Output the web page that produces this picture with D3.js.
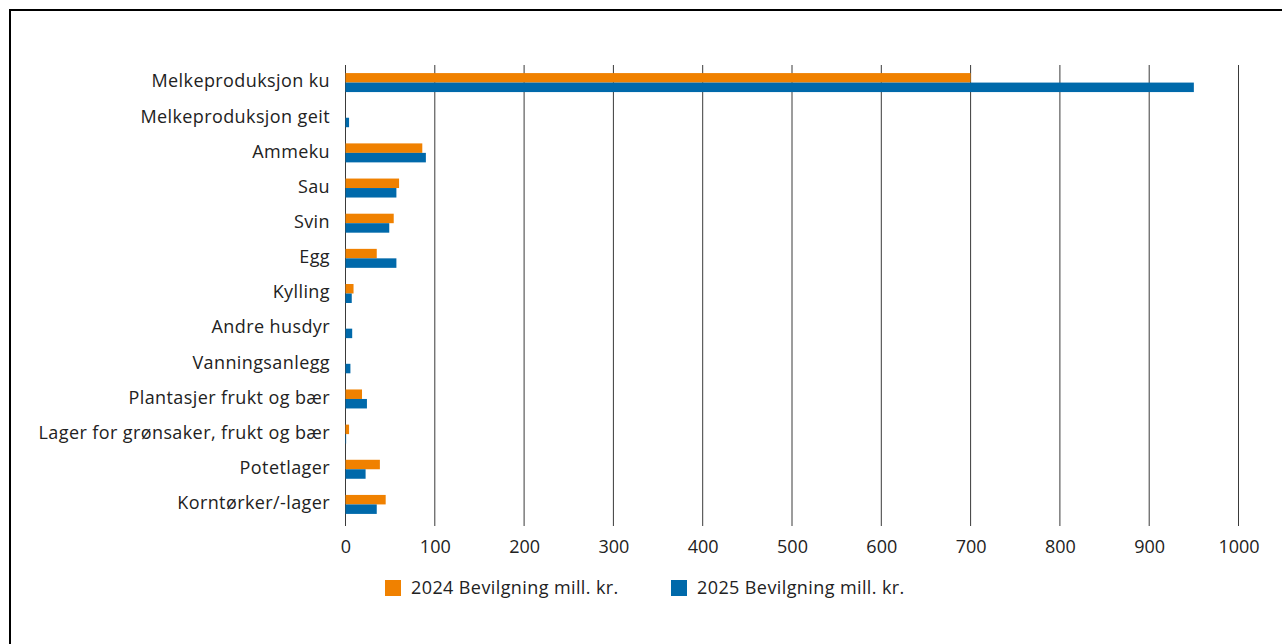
<!DOCTYPE html>
<html>
<head>
<meta charset="utf-8">
<script src="https://cdn.jsdelivr.net/npm/d3@7"></script>
<style>
  html, body { margin: 0; padding: 0; background: #fff; }
  svg { display: block; font-family: "Open Sans", "Noto Sans", sans-serif; }
</style>
</head>
<body>
<svg id="chart" width="1282" height="644"></svg>
<script>
const categories = [
  "Melkeproduksjon ku",
  "Melkeproduksjon geit",
  "Ammeku",
  "Sau",
  "Svin",
  "Egg",
  "Kylling",
  "Andre husdyr",
  "Vanningsanlegg",
  "Plantasjer frukt og bær",
  "Lager for grønsaker, frukt og bær",
  "Potetlager",
  "Korntørker/-lager"
];
const values2024 = [700, 0, 86, 60, 54, 35, 9, 0, 0, 18.5, 4, 38.5, 45];
const values2025 = [950, 4, 90, 57, 49, 57, 7, 7.5, 5.5, 24, 0.7, 22.5, 35];
const seriesNames = ["2024 Bevilgning mill. kr.", "2025 Bevilgning mill. kr."];
const seriesColors = ["#F08100", "#0069AA"];
const xTicks = [0, 100, 200, 300, 400, 500, 600, 700, 800, 900, 1000];

const svg = d3.select("#chart");
const FS = 18, LS = 0.4;

// frame
svg.append("rect")
  .attr("x", 10).attr("y", 10).attr("width", 1290).attr("height", 660)
  .attr("fill", "none").attr("stroke", "#000").attr("stroke-width", 2);

const x = d3.scaleLinear().domain([0, 1000]).range([345.5, 1238.5]);
const y = d3.scaleBand().domain(categories).range([65, 522])
  .paddingInner(0.46).paddingOuter(0.23);
const sub = d3.scaleBand().domain([0, 1]).range([0, y.bandwidth()]);

// gridlines
svg.append("g").selectAll("line").data(xTicks).join("line")
  .attr("x1", d => x(d)).attr("x2", d => x(d))
  .attr("y1", 65).attr("y2", 526)
  .attr("stroke", "#3a3a3a").attr("stroke-width", 1);

// bars
const series = [values2024, values2025];
series.forEach((vals, si) => {
  svg.append("g").selectAll("rect").data(categories).join("rect")
    .attr("x", x(0))
    .attr("y", (c) => y(c) + sub(si))
    .attr("width", (c, i) => Math.max(0, x(vals[i]) - x(0)))
    .attr("height", sub.bandwidth())
    .attr("fill", seriesColors[si]);
});

// category labels
svg.append("g").selectAll("text").data(categories).join("text")
  .attr("x", 330)
  .attr("y", c => y(c) + y.bandwidth() / 2 - 1.5)
  .attr("dy", "0.35em")
  .attr("text-anchor", "end")
  .attr("font-size", FS)
  .attr("letter-spacing", LS)
  .attr("fill", "#222")
  .text(c => c);

// x axis tick labels
const xAxis = d3.axisBottom(x).tickValues(xTicks).tickFormat(d3.format("d")).tickSize(0).tickPadding(0);
const ax = svg.append("g").attr("transform", "translate(0,540)").call(xAxis);
ax.select(".domain").remove();
ax.selectAll("text").attr("font-size", FS).attr("fill", "#222")
  .attr("font-family", "\"Open Sans\", \"Noto Sans\", sans-serif");

// legend
const legendX = [385, 671];
seriesNames.forEach((name, i) => {
  svg.append("rect").attr("x", legendX[i]).attr("y", 580)
    .attr("width", 16).attr("height", 16).attr("fill", seriesColors[i]);
  svg.append("text").attr("x", legendX[i] + 26).attr("y", 588)
    .attr("dy", "0.35em").attr("font-size", FS).attr("letter-spacing", LS)
    .attr("fill", "#222")
    .text(name);
});
</script>
</body>
</html>
